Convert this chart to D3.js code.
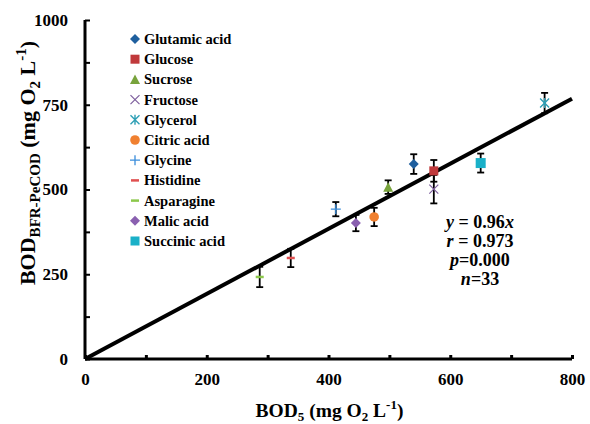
<!DOCTYPE html>
<html>
<head>
<meta charset="utf-8">
<script src="https://cdn.jsdelivr.net/npm/d3@7"></script>
<style>
  body { margin: 0; background: #fff; }
</style>
</head>
<body>
<div id="chart"></div>
<script>
// compounds
const names = ["Glutamic acid", "Glucose", "Sucrose", "Fructose", "Glycerol", "Citric acid",
  "Glycine", "Histidine", "Asparagine", "Malic acid", "Succinic acid"];
const bod5 = [540, 573, 498, 573, 755, 475, 412, 338, 287, 445, 650];
const bfr = [575, 555, 507, 501, 755, 419, 442, 298, 242, 401, 578];
const errs = [29, 32, 20, 42, 30, 27, 21, 27, 30, 24, 28];
const colors = ["#1F5F9E", "#C0393B", "#78A33C", "#7E5F9E", "#2E9FB5", "#F08030",
  "#3A8DDB", "#E05050", "#8CC84B", "#8A60B0", "#1AB0C8"];
const shapes = ["diamond", "square", "triangle", "x", "star", "circle",
  "plus", "dash", "dash", "diamond", "bigsquare"];

const xTicks = [0, 200, 400, 600, 800];
const yTicks = [0, 250, 500, 750, 1000];
const slope = 0.96;
const stats = ["y = 0.96x", "r = 0.973", "p=0.000", "n=33"];

const FONT = "Liberation Serif";
const width = 590, height = 424;
const margin = { top: 20, right: 18, bottom: 65, left: 85 };

const svg = d3.select("#chart").append("svg")
  .attr("width", width).attr("height", height);

const x = d3.scaleLinear().domain([0, 800]).range([margin.left, width - margin.right]);
const y = d3.scaleLinear().domain([0, 1000]).range([height - margin.bottom, margin.top]);

// axes
const xAxis = svg.append("g")
  .attr("transform", `translate(0, ${y(0)})`)
  .call(d3.axisBottom(x).tickValues(d3.range(0, 801, 100)).tickSize(-4)
    .tickFormat(d => xTicks.includes(d) ? d : ""));
xAxis.select(".domain").attr("stroke-width", 3).attr("d", `M${x(0)},0H${x(800)}`);
xAxis.selectAll(".tick line").attr("stroke-width", 3);
xAxis.selectAll(".tick text").attr("font-size", 17).attr("fill", "#000").attr("y", 14);

const yAxis = svg.append("g")
  .attr("transform", `translate(${x(0)}, 0)`)
  .call(d3.axisLeft(y).tickValues(d3.range(0, 1001, 125)).tickSize(-5)
    .tickFormat(d => yTicks.includes(d) ? d : ""));
yAxis.select(".domain").attr("stroke-width", 3).attr("d", `M0,${y(0)}V${y(1000)}`);
yAxis.selectAll(".tick line").attr("stroke-width", 2);
yAxis.selectAll(".tick text").attr("font-size", 17).attr("fill", "#000").attr("x", -17);

// regression line
svg.append("line")
  .attr("x1", x(0)).attr("y1", y(0))
  .attr("x2", x(800)).attr("y2", y(800 * slope))
  .attr("stroke", "#000").attr("stroke-width", 4);

const data = names.map((n, i) => ({ name: n, bod5: bod5[i], bfr: bfr[i], err: errs[i], color: colors[i], shape: shapes[i] }));

// error bars
const eb = svg.append("g").selectAll("g").data(data).join("g")
  .attr("stroke", "#000").attr("stroke-width", 1.8);
eb.append("line")
  .attr("x1", d => x(d.bod5)).attr("x2", d => x(d.bod5))
  .attr("y1", d => y(d.bfr - d.err)).attr("y2", d => y(d.bfr + d.err));
eb.append("line")
  .attr("x1", d => x(d.bod5) - 3.5).attr("x2", d => x(d.bod5) + 3.5)
  .attr("y1", d => y(d.bfr + d.err)).attr("y2", d => y(d.bfr + d.err));
eb.append("line")
  .attr("x1", d => x(d.bod5) - 3.5).attr("x2", d => x(d.bod5) + 3.5)
  .attr("y1", d => y(d.bfr - d.err)).attr("y2", d => y(d.bfr - d.err));

// draws one marker centred on 0,0
function marker(g, shape, color) {
  if (shape === "diamond") {
    g.append("path").attr("d", "M0,-5L5,0L0,5L-5,0Z").attr("fill", color);
  } else if (shape === "square") {
    g.append("rect").attr("x", -4.5).attr("y", -4.5).attr("width", 9).attr("height", 9).attr("fill", color);
  } else if (shape === "bigsquare") {
    g.append("rect").attr("x", -5).attr("y", -5).attr("width", 10).attr("height", 10).attr("fill", color);
  } else if (shape === "triangle") {
    g.append("path").attr("d", "M0,-5L5,4.5L-5,4.5Z").attr("fill", color);
  } else if (shape === "circle") {
    g.append("circle").attr("r", 4.8).attr("fill", color);
  } else if (shape === "x") {
    g.append("path").attr("d", "M-4.5,-4.5L4.5,4.5M-4.5,4.5L4.5,-4.5").attr("stroke", color).attr("stroke-width", 1.2);
  } else if (shape === "star") {
    g.append("path").attr("d", "M-4.5,-4.5L4.5,4.5M-4.5,4.5L4.5,-4.5M0,-5V5").attr("stroke", color).attr("stroke-width", 1.4);
  } else if (shape === "plus") {
    g.append("path").attr("d", "M-5,0H5M0,-5V5").attr("stroke", color).attr("stroke-width", 1.3);
  } else if (shape === "dash") {
    g.append("path").attr("d", "M-4,0H4").attr("stroke", color).attr("stroke-width", 2.5);
  }
}

svg.append("g").selectAll("g").data(data).join("g")
  .attr("transform", d => `translate(${x(d.bod5)}, ${y(d.bfr)})`)
  .each(function (d) { marker(d3.select(this), d.shape, d.color); });

// legend
const legend = svg.append("g").attr("transform", "translate(135, 39)");
const items = legend.selectAll("g").data(data).join("g")
  .attr("transform", (d, i) => `translate(0, ${i * 20.2})`);
items.each(function (d) { marker(d3.select(this), d.shape === "bigsquare" ? "square" : d.shape, d.color); });
items.append("text").attr("x", 9).attr("y", 5).attr("font-size", 14.5).text(d => d.name);

// stats text
svg.append("g").selectAll("text").data(stats).join("text")
  .attr("x", 480).attr("y", (d, i) => 228 + i * 19)
  .attr("text-anchor", "middle").attr("font-size", 18)
  .each(function (d) {
    const t = d3.select(this);
    const m = d.match(/^([a-z])(.*?)(x?)$/);
    t.append("tspan").attr("font-style", "italic").text(m[1]);
    t.append("tspan").text(m[2]);
    if (m[3]) t.append("tspan").attr("font-style", "italic").text(m[3]);
  });

// axis titles
const xt = svg.append("text").attr("x", x(400) + 1).attr("y", 417)
  .attr("text-anchor", "middle").attr("font-size", 19.5);
xt.append("tspan").text("BOD");
xt.append("tspan").attr("font-size", 13).attr("dy", 4).text("5");
xt.append("tspan").attr("dy", -4).text(" (mg O");
xt.append("tspan").attr("font-size", 13).attr("dy", 4).text("2");
xt.append("tspan").attr("dy", -4).text(" L");
xt.append("tspan").attr("font-size", 13).attr("dy", -8).text("-1");
xt.append("tspan").attr("dy", 8).text(")");

const yt = svg.append("text")
  .attr("transform", "translate(35, 163) rotate(-90)")
  .attr("text-anchor", "middle").attr("font-size", 22);
yt.append("tspan").text("BOD");
yt.append("tspan").attr("font-size", 15).attr("dy", 5).text("BFR-PeCOD");
yt.append("tspan").attr("dy", -5).text(" (mg O");
yt.append("tspan").attr("font-size", 15).attr("dy", 5).text("2");
yt.append("tspan").attr("dy", -5).text(" L");
yt.append("tspan").attr("font-size", 15).attr("dy", -9).text("-1");
yt.append("tspan").attr("dy", 9).text(")");

// one serif family for every text, set on the elements themselves
svg.selectAll("text").attr("font-family", FONT).attr("font-weight", "bold");
</script>
</body>
</html>
